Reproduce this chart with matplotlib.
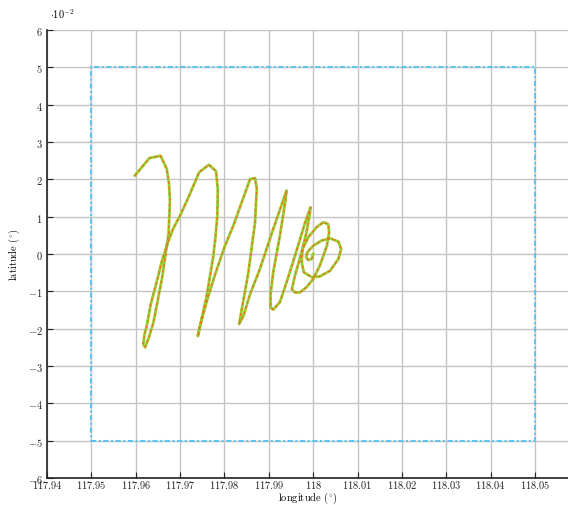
import numpy as np
import matplotlib
matplotlib.use("Agg")
import matplotlib.pyplot as plt

# trajectory (longitude, latitude in degrees)
lon = [117.9598, 117.9631, 117.9656, 117.9670, 117.9675, 117.9677, 117.9676, 117.9674,
       117.9670, 117.9659, 117.9648, 117.9640, 117.9630, 117.9621, 117.9617, 117.9620,
       117.9625, 117.9634, 117.9647, 117.9659, 117.9672, 117.9684, 117.9700, 117.9719,
       117.9743, 117.9765, 117.9781, 117.9785, 117.9784, 117.9780, 117.9775, 117.9760,
       117.9740, 117.9745, 117.9763, 117.9783, 117.9801, 117.9820, 117.9843, 117.9858,
       117.9869, 117.9873, 117.9871, 117.9869, 117.9854, 117.9833, 117.9843, 117.9858,
       117.9880, 117.9910, 117.9940, 117.9938, 117.9925, 117.9910, 117.9904, 117.9904,
       117.9910, 117.9925, 117.9940, 117.9959, 117.9982, 117.9994, 117.9993, 117.9985,
       117.9974, 117.9959, 117.9952, 117.9959, 117.9970, 117.9985, 118.0000, 118.0015,
       118.0031, 118.0036, 118.0034, 118.0023, 118.0008, 117.9989, 117.9976, 117.9974,
       117.9979, 117.9997, 118.0015, 118.0038, 118.0057, 118.0063, 118.0057, 118.0038,
       118.0019, 118.0000, 117.9987, 117.9984, 117.9989, 117.9997, 118.0000]
lat_e2 = [2.10, 2.57, 2.63, 2.28, 1.88, 1.47, 1.07, 0.54,
          0.22, -0.67, -1.34, -1.83, -2.22, -2.50, -2.41, -2.14,
          -1.92, -1.34, -0.76, -0.19, 0.29, 0.67, 1.03, 1.52,
          2.19, 2.39, 2.22, 1.74, 1.03, 0.48, -0.05, -1.12,
          -2.20, -1.92, -1.15, -0.40, 0.21, 0.76, 1.52, 2.01,
          2.03, 1.74, 1.34, 0.85, -0.49, -1.88, -1.65, -1.07,
          -0.40, 0.67, 1.70, 1.47, 0.49, -0.49, -1.07, -1.43,
          -1.49, -1.29, -0.76, -0.05, 0.85, 1.25, 1.12, 0.58,
          0.05, -0.58, -0.94, -1.03, -1.03, -0.89, -0.67, -0.31,
          0.22, 0.58, 0.80, 0.85, 0.72, 0.45, 0.13, -0.22,
          -0.49, -0.62, -0.60, -0.45, -0.13, 0.13, 0.33, 0.42,
          0.36, 0.22, 0.05, -0.09, -0.16, -0.13, 0.00]
lat = [v * 0.01 for v in lat_e2]

# bounding box
box_lon = [117.95, 118.05, 118.05, 117.95, 117.95]
box_lat = [-0.05, -0.05, 0.05, 0.05, -0.05]

xticks = [117.94, 117.95, 117.96, 117.97, 117.98, 117.99, 118.00,
          118.01, 118.02, 118.03, 118.04, 118.05]
xticklabels = ['117.94', '117.95', '117.96', '117.97', '117.98', '117.99', '118',
               '118.01', '118.02', '118.03', '118.04', '118.05']
ytick_vals = [-6, -5, -4, -3, -2, -1, 0, 1, 2, 3, 4, 5, 6]

plt.rcParams['mathtext.fontset'] = 'cm'
plt.rcParams['font.family'] = 'serif'
plt.rcParams['font.serif'] = ['cmr10', 'DejaVu Serif']
plt.rcParams['axes.formatter.use_mathtext'] = True

fig = plt.figure(figsize=(5.68, 5.06), dpi=100)
ax = fig.add_axes([47/568, 1 - 479/506, 1 - 47/568, (479 - 31)/506])

ax.plot(box_lon, box_lat, color='#5bc4f0', lw=1.5, linestyle=(0, (2.5, 1.2, 1, 1.2)), zorder=3)
ax.plot(lon, lat, color='#9acd32', lw=2.0, solid_joinstyle='round', zorder=4)
ax.plot(lon, lat, color='#e8741e', lw=1.0, linestyle=(0, (2, 2)), zorder=5)

ax.set_xlim(117.94, 117.94 + 521 / 4436)
ax.set_ylim(-0.06, 0.06)
ax.set_xticks(xticks)
ax.set_xticklabels(['$' + t + '$' for t in xticklabels], fontsize=7.5)
ax.set_yticks([v * 0.01 for v in ytick_vals])
ax.set_yticklabels(['$%d$' % v for v in ytick_vals], fontsize=7.5)

ax.grid(True, color='#c4c4c4', lw=1.0)
ax.set_axisbelow(True)
for s in ['top', 'right']:
    ax.spines[s].set_visible(False)
for s in ['left', 'bottom']:
    ax.spines[s].set_linewidth(1.2)
    ax.spines[s].set_color('#222222')
ax.tick_params(direction='in', length=4, width=0.8, colors='#222222')
ax.tick_params(axis='x', pad=0)
ax.tick_params(axis='y', pad=3)

ax.set_xlabel(r'longitude $(^{\circ})$', fontsize=7.5, labelpad=0)
ax.set_ylabel(r'latitude $(^{\circ})$', fontsize=7.5, labelpad=4)
fig.text(50/568, 1 - 14/506, r'$\cdot 10^{-2}$', fontsize=7.5, va='center', ha='left')

fig.savefig('out.png', dpi=100)
